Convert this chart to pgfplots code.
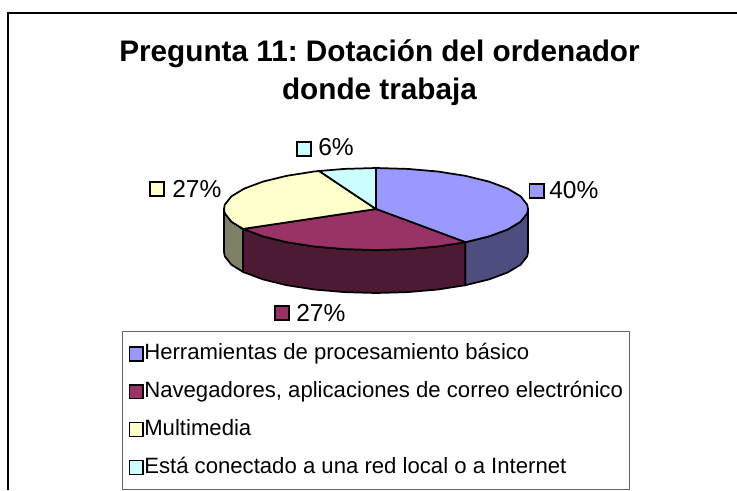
\documentclass[border=0pt]{standalone}
\usepackage{fontspec}
\setmainfont{Liberation Sans}
\usepackage{pgfplots}
\pgfplotsset{compat=1.18}

\definecolor{sliceA}{HTML}{9999FF}
\definecolor{sliceB}{HTML}{993366}
\definecolor{sliceC}{HTML}{FFFFCC}
\definecolor{sliceD}{HTML}{CCFFFF}
\definecolor{sideA}{HTML}{4D4D80}
\definecolor{sideB}{HTML}{4D1A33}
\definecolor{sideC}{HTML}{808066}

\begin{document}
\frenchspacing
\begin{tikzpicture}
\begin{axis}[
    scale only axis,
    width=552.75pt, height=367.5pt,
    xmin=0, xmax=737,
    ymin=0, ymax=490,
    y dir=reverse,
    axis lines=none,
    clip=false,
    legend style={
        at={(0.1655,0.3245)}, anchor=north west,
        draw=black!60, line width=0.7pt,
        font=\fontsize{16.6pt}{19pt}\selectfont,
        inner xsep=3pt, inner ysep=7pt,
        row sep=8.9pt,
        nodes={text height=12pt, text depth=3.5pt},
        legend cell align=left,
    },
    legend image code/.code={
        \path[draw=none, fill=none] (0pt,-5pt) rectangle (11.4pt,5pt);
        \draw[#1, line width=1.2pt, overlay] (2.2pt,-5.2pt) rectangle (12.2pt,5.2pt);
    },
]

% keep the page at the full 737x490
\path[use as bounding box] (axis cs:0,0) rectangle (axis cs:737,490);

% outer frame, only left and top are in view
\addplot[black, line width=1.5pt, forget plot] coordinates {
    (8,490) (8,13) (737,13)
};

% side walls
\addplot[fill=sideA, draw=black, line width=1.3pt, forget plot] coordinates {
    (528,209) (527.2,213.3) (520.6,221.7) (507.6,229.5) (489,236.4) (465.3,242.2)
    (465.3,285.2) (489,279.4) (507.6,272.5) (520.6,264.7) (527.2,256.3) (528,252)
} -- cycle;
\addplot[fill=sideB, draw=black, line width=1.3pt, forget plot] coordinates {
    (465.3,242.2) (437.8,246.5) (407.6,249.1) (376,250) (344.4,249.1) (314.2,246.5)
    (286.7,242.2) (263,236.4) (243.1,228.9)
    (243.1,271.9) (263,279.4) (286.7,285.2) (314.2,289.5) (344.4,292.1) (376,293)
    (407.6,292.1) (437.8,289.5) (465.3,285.2)
} -- cycle;
\addplot[fill=sideC, draw=black, line width=1.3pt, forget plot] coordinates {
    (243.1,228.9) (231.4,221.7) (224.8,213.3) (224,209)
    (224,252) (224.8,256.3) (231.4,264.7) (243.1,271.9)
} -- cycle;

% top surface: 40, 27, 27, 6 %
\addplot[fill=sliceA, draw=black, line width=1.3pt] coordinates {
    (376,209) (376,168) (407.6,168.9) (437.8,171.5) (465.3,175.8) (489,181.6)
    (507.6,188.5) (520.6,196.3) (527.2,204.7) (528,209) (527.2,213.3) (520.6,221.7)
    (507.6,229.5) (489,236.4) (465.3,242.2)
} -- cycle;
\addlegendentry{Herramientas de procesamiento básico}
\addplot[fill=sliceB, draw=black, line width=1.3pt] coordinates {
    (376,209) (465.3,242.2) (437.8,246.5) (407.6,249.1) (376,250) (344.4,249.1)
    (314.2,246.5) (286.7,242.2) (263,236.4) (243.1,228.9)
} -- cycle;
\addlegendentry{Navegadores, aplicaciones de correo electrónico}
\addplot[fill=sliceC, draw=black, line width=1.3pt] coordinates {
    (376,209) (243.1,228.9) (231.4,221.7) (224.8,213.3) (224,209) (224.8,204.7)
    (231.4,196.3) (244.4,188.5) (263,181.6) (286.7,175.8) (314.2,171.5) (319.1,171)
} -- cycle;
\addlegendentry{Multimedia}
\addplot[fill=sliceD, draw=black, line width=1.3pt] coordinates {
    (376,209) (319.1,171) (344.4,168.9) (376,168)
} -- cycle;
\addlegendentry{Está conectado a una red local o a Internet}

% data label swatches
\addplot[only marks, mark=square*, mark size=5.4pt, mark options={fill=sliceA, draw=black, line width=1.2pt}, forget plot]
    coordinates {(536.5,191)};
\addplot[only marks, mark=square*, mark size=5.4pt, mark options={fill=sliceB, draw=black, line width=1.2pt}, forget plot]
    coordinates {(282,313)};
\addplot[only marks, mark=square*, mark size=5.4pt, mark options={fill=sliceC, draw=black, line width=1.2pt}, forget plot]
    coordinates {(157,189)};
\addplot[only marks, mark=square*, mark size=5.4pt, mark options={fill=sliceD, draw=black, line width=1.2pt}, forget plot]
    coordinates {(304,149)};

\node[anchor=west, inner sep=0pt, font=\fontsize{18.4pt}{22pt}\selectfont] at (axis cs:549,190) {40\%};
\node[anchor=west, inner sep=0pt, font=\fontsize{18.4pt}{22pt}\selectfont] at (axis cs:296,313) {27\%};
\node[anchor=west, inner sep=0pt, font=\fontsize{18.4pt}{22pt}\selectfont] at (axis cs:172,189) {27\%};
\node[anchor=west, inner sep=0pt, font=\fontsize{18.4pt}{22pt}\selectfont] at (axis cs:318,147) {6\%};

% title
\node[align=center, inner sep=0pt, font=\bfseries\fontsize{22.3pt}{28.5pt}\selectfont] at (axis cs:379.5,73)
    {Pregunta 11: Dotación del ordenador\\donde trabaja};

\end{axis}
\end{tikzpicture}
\end{document}
